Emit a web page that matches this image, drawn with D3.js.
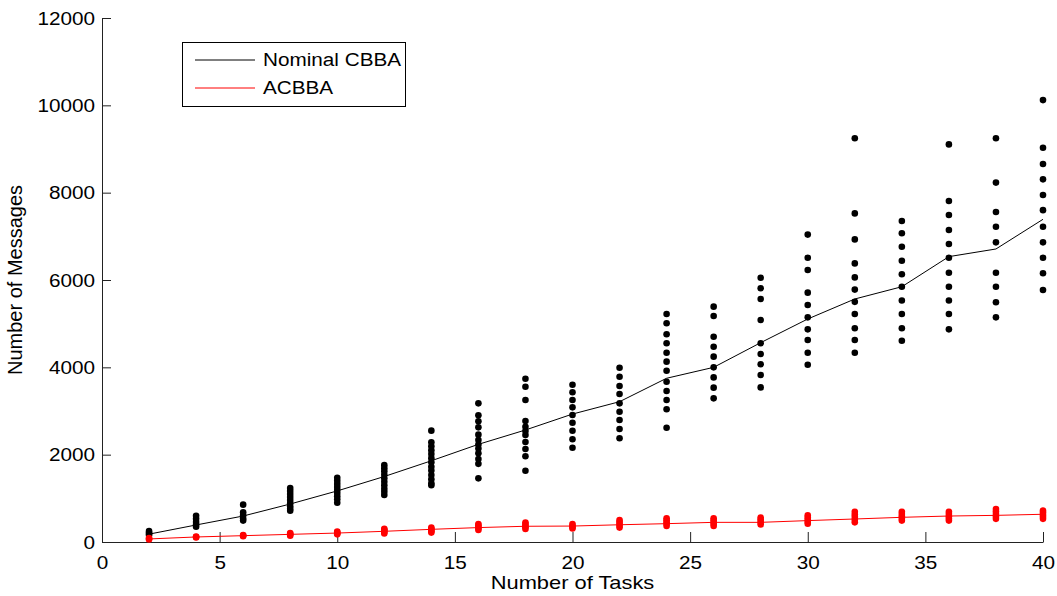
<!DOCTYPE html>
<html>
<head>
<meta charset="utf-8">
<script src="https://cdn.jsdelivr.net/npm/d3@7"></script>
<style>
  body { margin: 0; background: #fff; }
  svg { display: block; }
  text { font-family: "Liberation Sans", Arial, sans-serif; fill: #000; }
</style>
</head>
<body>
<svg id="chart"></svg>
<script>
// Number of tasks on the x axis
const tasks = [2, 4, 6, 8, 10, 12, 14, 16, 18, 20, 22, 24, 26, 28, 30, 32, 34, 36, 38, 40];

// Mean message counts (the two lines)
const nominalMean = [180, 390, 595, 870, 1170, 1500, 1860, 2237, 2565, 2930, 3213, 3750, 4000, 4565, 5107, 5565, 5846, 6535, 6710, 7390];
const acbbaMean = [70, 115, 145, 175, 205, 245, 290, 330, 360, 365, 395, 420, 450, 450, 490, 527, 565, 595, 610, 635];

// Individual runs (the dots), one list per task count
const nominalRuns = [
  [250, 215, 185, 160],
  [600, 530, 460, 400, 350],
  [855, 680, 610, 540, 490],
  [1235, 1170, 1100, 1030, 960, 890, 820, 760, 717],
  [1470, 1400, 1330, 1260, 1190, 1120, 1050, 980, 900],
  [1760, 1690, 1620, 1540, 1460, 1380, 1300, 1220, 1150, 1075],
  [2550, 2285, 2190, 2100, 2015, 1920, 1825, 1725, 1635, 1535, 1435, 1345, 1300],
  [3175, 2900, 2763, 2626, 2458, 2336, 2230, 2140, 2031, 1900, 1790, 1458],
  [3740, 3556, 3252, 2771, 2640, 2540, 2450, 2290, 2130, 1965, 1633],
  [3602, 3428, 3252, 3084, 2908, 2732, 2549, 2352, 2160],
  [3990, 3785, 3572, 3389, 3175, 2983, 2794, 2588, 2375],
  [5220, 5008, 4756, 4550, 4335, 4130, 3923, 3670, 3458, 3252, 3040, 2618],
  [5390, 5175, 4700, 4470, 4245, 4000, 3770, 3535, 3290],
  [6050, 5810, 5565, 5083, 4550, 4305, 4070, 3825, 3540],
  [7040, 6510, 6230, 5710, 5427, 5145, 4870, 4625, 4335, 4060],
  [9245, 7525, 6930, 6380, 6060, 5780, 5500, 5220, 4895, 4625, 4335],
  [7350, 7070, 6760, 6440, 6130, 5846, 5530, 5220, 4895, 4610],
  [9105, 7810, 7490, 7145, 6825, 6510, 6167, 5846, 5530, 5220, 4870],
  [9245, 8230, 7557, 7220, 6862, 6167, 5846, 5490, 5145],
  [10120, 9030, 8655, 8305, 7946, 7600, 7220, 6862, 6510, 6153, 5770]
];
const acbbaRuns = [
  [60, 75, 90],
  [105, 115, 125],
  [130, 145, 160],
  [145, 165, 185, 205],
  [175, 195, 220, 240],
  [195, 225, 255, 280, 300],
  [215, 245, 275, 305, 330],
  [275, 310, 345, 380, 410],
  [300, 335, 370, 410, 445],
  [310, 340, 370, 410],
  [330, 375, 420, 465, 505],
  [365, 410, 455, 500, 545],
  [365, 410, 455, 500, 545],
  [400, 440, 480, 520, 560],
  [420, 465, 515, 560, 610],
  [450, 510, 570, 630, 690],
  [490, 540, 590, 640, 690],
  [490, 540, 590, 640, 690],
  [530, 585, 640, 700, 755],
  [530, 580, 625, 675, 720]
];

const xTicks = [0, 5, 10, 15, 20, 25, 30, 35, 40];
const yTicks = [0, 2000, 4000, 6000, 8000, 10000, 12000];

const width = 1057, height = 596;
const margin = { top: 18, right: 14, bottom: 54, left: 102 };
const stretch = 1.15; // reference text is a bit wider than the font

const svg = d3.select("#chart")
  .attr("width", width)
  .attr("height", height);

const x = d3.scaleLinear().domain([0, 40]).range([margin.left, width - margin.right]);
const y = d3.scaleLinear().domain([0, 12000]).range([height - margin.bottom, margin.top]);

function widen(sel) {
  sel.each(function () {
    const len = this.getComputedTextLength();
    d3.select(this).attr("textLength", len * stretch).attr("lengthAdjust", "spacingAndGlyphs");
  });
}

// Axes with inward ticks
const xAxis = svg.append("g")
  .attr("transform", `translate(0, ${y(0)})`)
  .call(d3.axisBottom(x).tickValues(xTicks).tickFormat(d3.format("d"))
    .tickSize(-10).tickSizeOuter(0).tickPadding(14));
const yAxis = svg.append("g")
  .attr("transform", `translate(${x(0)}, 0)`)
  .call(d3.axisLeft(y).tickValues(yTicks).tickFormat(d3.format("d"))
    .tickSize(-9).tickSizeOuter(0).tickPadding(7));

[xAxis, yAxis].forEach(g => {
  g.select(".domain").attr("stroke", "#222");
  g.selectAll(".tick line").attr("stroke", "#222");
  g.selectAll(".tick text").attr("font-size", 18).attr("fill", "#000");
});
xAxis.selectAll(".tick text").attr("dy", "0.71em");
yAxis.selectAll(".tick text").attr("dy", "0.35em");
widen(xAxis.selectAll(".tick text"));
widen(yAxis.selectAll(".tick text"));

// Axis titles
const xTitle = svg.append("text")
  .attr("x", (x(0) + x(40)) / 2)
  .attr("y", 589)
  .attr("text-anchor", "middle")
  .attr("font-size", 19)
  .text("Number of Tasks");
widen(xTitle);

svg.append("text")
  .attr("transform", `translate(22, ${(y(0) + y(12000)) / 2}) rotate(-90)`)
  .attr("text-anchor", "middle")
  .attr("font-size", 20)
  .text("Number of Messages");

// Dots
const nominalPts = tasks.flatMap((t, i) => nominalRuns[i].map(v => ({ t, v })));
const acbbaPts = tasks.flatMap((t, i) => acbbaRuns[i].map(v => ({ t, v })));

svg.append("g").selectAll("circle")
  .data(nominalPts)
  .enter()
  .append("circle")
  .attr("cx", d => x(d.t))
  .attr("cy", d => y(d.v))
  .attr("r", 3.3)
  .attr("fill", "#000");

// Lines
const line = d3.line().x(d => x(d[0])).y(d => y(d[1]));

svg.append("path")
  .datum(tasks.map((t, i) => [t, nominalMean[i]]))
  .attr("d", line)
  .attr("fill", "none")
  .attr("stroke", "#000")
  .attr("stroke-width", 1);

svg.append("g").selectAll("circle")
  .data(acbbaPts)
  .enter()
  .append("circle")
  .attr("cx", d => x(d.t))
  .attr("cy", d => y(d.v))
  .attr("r", 3.3)
  .attr("fill", "#ff0000");

svg.append("path")
  .datum(tasks.map((t, i) => [t, acbbaMean[i]]))
  .attr("d", line)
  .attr("fill", "none")
  .attr("stroke", "#ff0000")
  .attr("stroke-width", 1);

// Legend
const legend = svg.append("g");
legend.append("rect")
  .attr("x", 182.5).attr("y", 42.5)
  .attr("width", 223).attr("height", 64)
  .attr("fill", "#fff")
  .attr("stroke", "#000");

const legendItems = [
  { label: "Nominal CBBA", color: "#000" },
  { label: "ACBBA", color: "#ff0000" }
];
legendItems.forEach((d, i) => {
  const ly = 60 + i * 28;
  legend.append("line")
    .attr("x1", 195).attr("x2", 255)
    .attr("y1", ly).attr("y2", ly)
    .attr("stroke", d.color);
  const t = legend.append("text")
    .attr("x", 263).attr("y", ly)
    .attr("dy", "0.35em")
    .attr("font-size", 18)
    .text(d.label);
  widen(t);
});
</script>
</body>
</html>
